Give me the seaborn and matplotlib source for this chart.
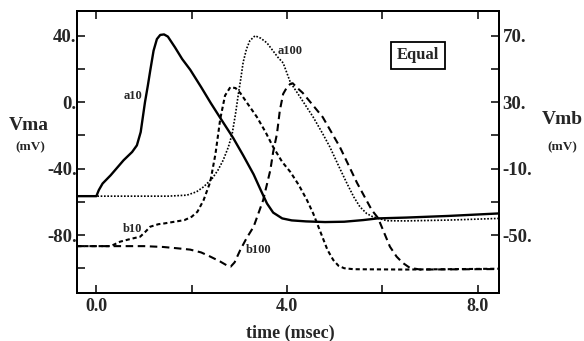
import matplotlib
matplotlib.use('Agg')  # no display
import matplotlib.pyplot as plt
from matplotlib.ticker import FixedLocator, FixedFormatter
import seaborn as sns

# a-curves use the left axis (Vma), b-curves the right axis (Vmb)
a10_t = [-0.4, 0.0, 0.05, 0.13, 0.3, 0.57, 0.75, 0.85, 0.93, 0.98, 1.02, 1.08, 1.13, 1.2, 1.27, 1.34,
         1.42, 1.5, 1.65, 1.8, 1.97, 2.2, 2.4, 2.6, 2.87, 3.08, 3.3, 3.45, 3.58, 3.71, 3.9, 4.1, 4.4,
         4.8, 5.2, 5.6, 5.9, 6.5, 7.4, 8.45]
a10_v = [-56.6, -56.6, -53, -49, -44, -35, -30, -26, -18, -8, 0, 10, 19, 31, 38, 40.5,
         40.8, 39.5, 33, 26, 19.5, 9, -0.5, -9.5, -21.5, -32, -43.5, -53, -61, -66.5, -70, -71.2, -71.8,
         -72.2, -72, -71, -70, -69.5, -68.5, -67]

a100_t = [-0.4, 1.5, 1.9, 2.1, 2.25, 2.43, 2.55, 2.66, 2.77, 2.85, 2.92, 2.98, 3.03, 3.08, 3.15, 3.22,
          3.33, 3.45, 3.58, 3.81, 3.92, 4.07, 4.3, 4.55, 4.75, 4.9, 5.11, 5.26, 5.4, 5.53, 5.67, 5.8,
          6.1, 6.5, 7.4, 8.45]
a100_v = [-56.6, -56.6, -56, -54, -51, -46, -41, -35, -27, -19, -7, 5, 14, 24, 32, 37,
          40, 38.5, 35.7, 27, 23.6, 12, 2, -9, -19, -27, -40, -49, -57, -63, -67, -69,
          -71.4, -71.5, -71, -70]

b10_t = [-0.4, 0.3, 0.5, 0.7, 0.92, 1.03, 1.13, 1.3, 1.43, 1.85, 2.0, 2.12, 2.25, 2.39, 2.5, 2.6,
         2.7, 2.81, 2.92, 3.02, 3.2, 3.37, 3.55, 3.71, 3.9, 4.07, 4.25, 4.42, 4.55, 4.7, 4.85, 4.97,
         5.08, 5.2, 5.4, 6.5, 8.45]
b10_v = [-56.7, -56.7, -54, -52.5, -51, -48, -45, -43.5, -43, -41, -39, -36, -29, -18, -1, 20,
         34, 39, 38.5, 35.5, 28, 21, 12, 3, -6, -12, -20, -29, -37, -48, -59, -65,
         -68.5, -70, -70.6, -70.8, -70.3]

b100_t = [-0.4, 1.0, 1.4, 1.7, 1.97, 2.2, 2.39, 2.6, 2.75, 2.82, 2.9, 3.02, 3.15, 3.3, 3.5, 3.6,
          3.65, 3.71, 3.79, 3.85, 3.92, 4.0, 4.07, 4.12, 4.2, 4.33, 4.75, 5.11, 5.32, 5.47, 5.64,
          5.78, 5.91, 6.03, 6.16, 6.3, 6.43, 6.58, 6.8, 8.45]
b100_v = [-56.7, -56.7, -57.2, -58, -58.8, -60.5, -63, -66, -68.5, -69, -66.5, -59, -52, -45, -29, -17,
          -11, 0, 11, 25, 35, 39, 41, 41.4, 39, 35.6, 21, 3, -9.6, -18.6, -27.6,
          -35, -39.7, -48, -57, -63, -66.8, -69.8, -70.8, -70.5]

x_major = [0.0, 4.0, 8.0]
x_minor = [2.0, 6.0]
x_labels = ['0.0', '4.0', '8.0']
left_major = [40, 0, -40, -80]
left_minor = [20, -20, -60, -100]
left_labels = ['40.', '0.', '-40.', '-80.']
right_major = [70, 30, -10, -50]
right_minor = [50, 10, -30]
right_labels = ['70.', '30.', '-10.', '-50.']

sns.set_style('ticks')
plt.rcParams['font.family'] = ['Liberation Serif', 'DejaVu Serif']
plt.rcParams['font.weight'] = 'bold'
plt.rcParams['axes.unicode_minus'] = False

fig = plt.figure(figsize=(5.84, 3.41), dpi=100)
ax = fig.add_axes([0.1324, 0.1399, 0.7221, 0.8278])
ax2 = ax.twinx()

sns.lineplot(x=a10_t, y=a10_v, ax=ax, color='black', lw=1.7, estimator=None, sort=False)
sns.lineplot(x=a100_t, y=a100_v, ax=ax, color='black', lw=1.2, linestyle=(0, (1, 1)),
             estimator=None, sort=False)
sns.lineplot(x=b10_t, y=b10_v, ax=ax2, color='black', lw=1.5, linestyle=(0, (2, 1.4)),
             estimator=None, sort=False)
sns.lineplot(x=b100_t, y=b100_v, ax=ax2, color='black', lw=1.5, linestyle=(0, (3.6, 2.2)),
             estimator=None, sort=False)

ax.set_xlim(-0.4, 8.45)
ax.set_ylim(-115.1, 54.9)
ax2.set_ylim(-85.1, 84.9)

# ticks
ax.xaxis.set_major_locator(FixedLocator(x_major))
ax.xaxis.set_minor_locator(FixedLocator(x_minor))
ax.xaxis.set_major_formatter(FixedFormatter(x_labels))
ax.yaxis.set_major_locator(FixedLocator(left_major))
ax.yaxis.set_minor_locator(FixedLocator(left_minor))
ax.yaxis.set_major_formatter(FixedFormatter(left_labels))
ax2.yaxis.set_major_locator(FixedLocator(right_major))
ax2.yaxis.set_minor_locator(FixedLocator(right_minor))
ax2.yaxis.set_major_formatter(FixedFormatter(right_labels))

ax.tick_params(axis='x', which='both', direction='in', top=True, bottom=True, length=6, width=1.3,
               labelsize=13, pad=3.5)
ax.tick_params(axis='y', which='both', direction='in', left=True, right=False, length=6, width=1.3,
               labelsize=13.5, pad=0.5)
ax2.tick_params(axis='y', which='both', direction='in', right=True, left=False, length=6, width=1.3,
                labelsize=13.5, pad=2.5)
for a in (ax, ax2):
    for sp in a.spines.values():
        sp.set_linewidth(1.4)
        sp.set_color('black')
    a.set_xlabel('')
    a.set_ylabel('')

# axis titles
fig.text(0.0488, 0.633, 'Vma', fontsize=14, fontweight='bold', ha='center', va='center')
fig.text(0.0514, 0.569, '(mV)', fontsize=9.5, fontweight='bold', ha='center', va='center')
fig.text(0.962, 0.649, 'Vmb', fontsize=14, fontweight='bold', ha='center', va='center')
fig.text(0.963, 0.569, '(mV)', fontsize=9.5, fontweight='bold', ha='center', va='center')
fig.text(0.497, 0.023, 'time (msec)', fontsize=13, fontweight='bold', ha='center', va='center')

# curve labels
ax.text(0.77, 3.8, 'a10', fontsize=9, fontweight='bold', ha='center', va='center')
ax.text(4.06, 30.9, 'a100', fontsize=9, fontweight='bold', ha='center', va='center')
ax.text(0.75, -76.3, 'b10', fontsize=9, fontweight='bold', ha='center', va='center')
ax.text(3.41, -89, 'b100', fontsize=9, fontweight='bold', ha='center', va='center')

ax.text(0.808, 0.844, 'Equal', transform=ax.transAxes, fontsize=12, fontweight='bold',
        ha='center', va='center',
        bbox=dict(boxstyle='square,pad=0.33', fc='white', ec='black', lw=1.3))

fig.savefig('out.png', dpi=100)
